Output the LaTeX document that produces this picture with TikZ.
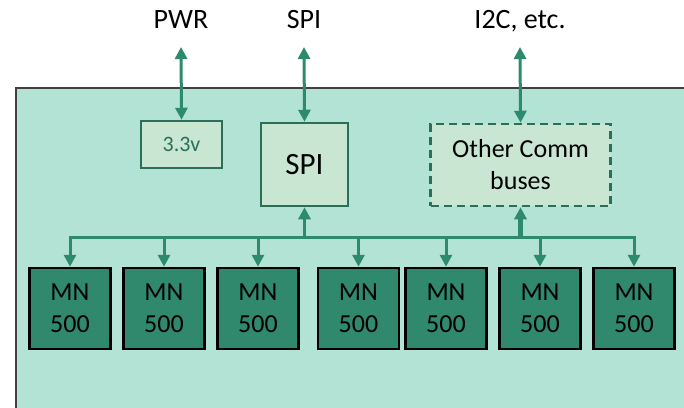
\documentclass[tikz,border=0pt]{standalone}
\usepackage{fontspec}
\setmainfont{Carlito}
\usetikzlibrary{arrows.meta}

\definecolor{mintbg}{HTML}{B3E3D5}
\definecolor{boxfill}{HTML}{C9E6D3}
\definecolor{boxline}{HTML}{2A6F58}
\definecolor{busgreen}{HTML}{2E8A6D}
\definecolor{mnfill}{HTML}{30896C}

\begin{document}
\begin{tikzpicture}[x=1pt, y=-1pt,
	lbl/.style={anchor=south, inner xsep=0pt, inner ysep=18pt, text depth=0pt, font=\fontsize{28}{32}\selectfont},
	lightbox/.style={draw=boxline, line width=2.5pt, fill=boxfill, inner sep=0pt, align=center},
	mnbox/.style={draw=black, line width=2.5pt, fill=mnfill, minimum width=81pt, minimum height=81pt, inner sep=0pt, align=center, font=\fontsize{26}{32}\selectfont},
	link/.style={draw=busgreen, line width=3pt},
	tip/.style={-{Triangle[width=12pt,length=12pt]}},
	both/.style={{Triangle[width=12pt,length=12pt]}-{Triangle[width=12pt,length=12pt]}}
	]
	\useasboundingbox (0,0) rectangle (684,407);

	% board
	\fill[mintbg] (16,88) rectangle (690,412);
	\draw[line width=2pt, black!75] (16,412) -- (16,88) -- (690,88);

	% outside labels
	\node[lbl] at (181, 47) (pwr) {PWR};
	\node[lbl] at (304, 47) (spi) {SPI};
	\node[lbl] at (520, 47) (i2c) {I2C, etc.};

	% blocks on the board
	\node[lightbox, minimum width=81pt, minimum height=47pt, text=boxline, font=\fontsize{22}{26}\selectfont] at (181.5, 144.5) (pwrbox) {3.3v};
	\node[lightbox, minimum width=87pt, minimum height=83pt, font=\fontsize{31}{36}\selectfont] at (304.5, 164.5) (spibox) {SPI};
	\node[lightbox, dash pattern=on 8pt off 5pt, minimum width=180pt, minimum height=82pt, font=\fontsize{26}{32}\selectfont] at (520.5, 165) (commbox) {Other Comm\\buses};

	\foreach \i/\x in {1/70, 2/164, 3/258, 4/358.5, 5/446, 6/540, 7/634}
		\node[mnbox] at (\x, 308.5) (mn\i) {MN\\500};

	% connectors
	\draw[link, both] (pwr.south) -- (pwrbox.north);
	\draw[link, both] (spi.south) -- (spibox.north);
	\draw[link, both] (i2c.south) -- (commbox.north);

	\coordinate (busl) at (70, 237.5);
	\coordinate (busr) at (634, 237.5);
	\draw[link, line cap=rect] (busl) -- (busr);
	\foreach \i in {1,...,7}
		\draw[link, tip] (mn\i.north |- busl) -- (mn\i.north);

	\draw[link, tip] (spibox.south |- busl) -- (spibox.south);
	\draw[link, tip, line width=5pt] (commbox.south |- busl) -- (commbox.south);
\end{tikzpicture}
\end{document}
